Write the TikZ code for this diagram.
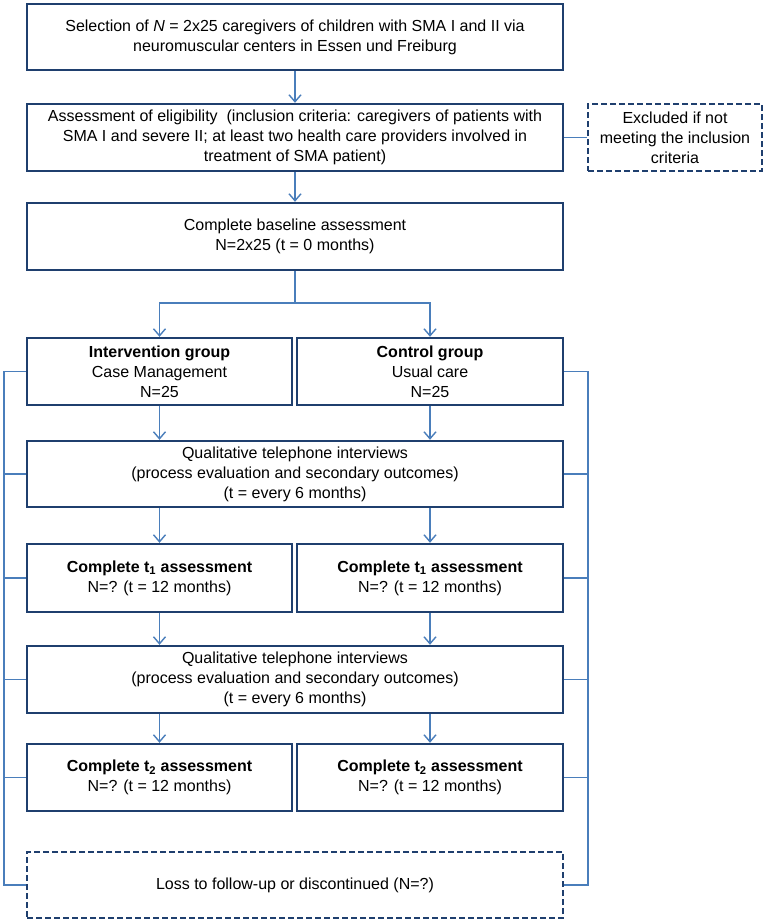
\documentclass[tikz,border=0pt]{standalone}
\usepackage{fontspec}
\setmainfont{Liberation Sans}
\usetikzlibrary{arrows.meta}
\definecolor{boxc}{HTML}{1F3F6E}
\definecolor{linec}{HTML}{4A7EBB}
\tikzset{
  box/.style={draw=boxc, line width=2.4pt, fill=white, align=center, inner sep=2pt,
    font=\fontsize{16}{20}\selectfont, text=black},
  dbox/.style={box, dashed, dash pattern=on 6pt off 3pt},
  conn/.style={draw=linec, line width=1.4pt},
  arr/.style={conn, -{Straight Barb[length=7pt,width=12pt,line width=1.4pt]}}
}
\begin{document}
\begin{tikzpicture}[x=1pt,y=-1pt]
\useasboundingbox (0,0) rectangle (765,922);
\node[box, minimum width=536pt, minimum height=66pt] (sel) at (295,37)
  {Selection of \textit{N} = 2x25 caregivers of children with SMA I and II via\\neuromuscular centers in Essen und Freiburg};
\node[box, minimum width=536pt, minimum height=67pt] (elig) at (295,137.5)
  {Assessment of eligibility \ (inclusion criteria: caregivers of patients with\\SMA I and severe II; at least two health care providers involved in\\treatment of SMA patient)};
\node[dbox, minimum width=174pt, minimum height=67pt] (excl) at (675,137.5)
  {Excluded if not\\meeting the inclusion\\criteria};
\node[box, minimum width=536pt, minimum height=67pt] (base) at (295,236.5)
  {Complete baseline assessment\\N=2x25 (t = 0 months)};
\node[box, minimum width=265pt, minimum height=67pt] (interv) at (159.5,371.5)
  {\textbf{Intervention group}\\Case Management\\N=25};
\node[box, minimum width=266pt, minimum height=67pt] (ctrl) at (430,371.5)
  {\textbf{Control group}\\Usual care\\N=25};
\node[box, minimum width=536pt, minimum height=66pt] (qa) at (295,474)
  {Qualitative telephone interviews\\(process evaluation and secondary outcomes)\\(t = every 6 months)};
\node[box, minimum width=265pt, minimum height=68pt] (ta) at (159.5,578)
  {\textbf{Complete t\textsubscript{1} assessment}\\N=? (t = 12 months)};
\node[box, minimum width=266pt, minimum height=68pt] (tb) at (430,578)
  {\textbf{Complete t\textsubscript{1} assessment}\\N=? (t = 12 months)};
\node[box, minimum width=536pt, minimum height=67pt] (qb) at (295,679.5)
  {Qualitative telephone interviews\\(process evaluation and secondary outcomes)\\(t = every 6 months)};
\node[box, minimum width=265pt, minimum height=67pt] (tc) at (159.5,777.5)
  {\textbf{Complete t\textsubscript{2} assessment}\\N=? (t = 12 months)};
\node[box, minimum width=266pt, minimum height=67pt] (td) at (430,777.5)
  {\textbf{Complete t\textsubscript{2} assessment}\\N=? (t = 12 months)};
\node[dbox, minimum width=536pt, minimum height=66pt] (loss) at (295,885)
  {Loss to follow-up or discontinued (N=?)};
% coordinates
\coordinate (split) at (295,303);
\coordinate (lrail) at (4,885);
\coordinate (rrail) at (588,885);
% main flow
\draw[arr] (sel.south) -- (elig.north);
\draw[conn] (elig.east) -- (excl.west);
\draw[arr] (elig.south) -- (base.north);
\draw[conn] (base.south) -- (split);
\draw[arr] (split) -| (interv.north);
\draw[arr] (split) -| (ctrl.north);
\draw[arr] (interv.south) -- (interv.south |- qa.north);
\draw[arr] (ctrl.south) -- (ctrl.south |- qa.north);
\draw[arr] (qa.south -| ta.north) -- (ta.north);
\draw[arr] (qa.south -| tb.north) -- (tb.north);
\draw[arr] (ta.south) -- (ta.south |- qb.north);
\draw[arr] (tb.south) -- (tb.south |- qb.north);
\draw[arr] (qb.south -| tc.north) -- (tc.north);
\draw[arr] (qb.south -| td.north) -- (td.north);
% left rail
\draw[conn] (interv.west) -| (lrail) -- (loss.west);
\draw[conn] (qa.west) -- (qa.west -| lrail);
\draw[conn] (ta.west) -- (ta.west -| lrail);
\draw[conn] (qb.west) -- (qb.west -| lrail);
\draw[conn] (tc.west) -- (tc.west -| lrail);
% right rail
\draw[conn] (ctrl.east) -| (rrail) -- (loss.east);
\draw[conn] (qa.east) -- (qa.east -| rrail);
\draw[conn] (tb.east) -- (tb.east -| rrail);
\draw[conn] (qb.east) -- (qb.east -| rrail);
\draw[conn] (td.east) -- (td.east -| rrail);
\end{tikzpicture}
\end{document}
